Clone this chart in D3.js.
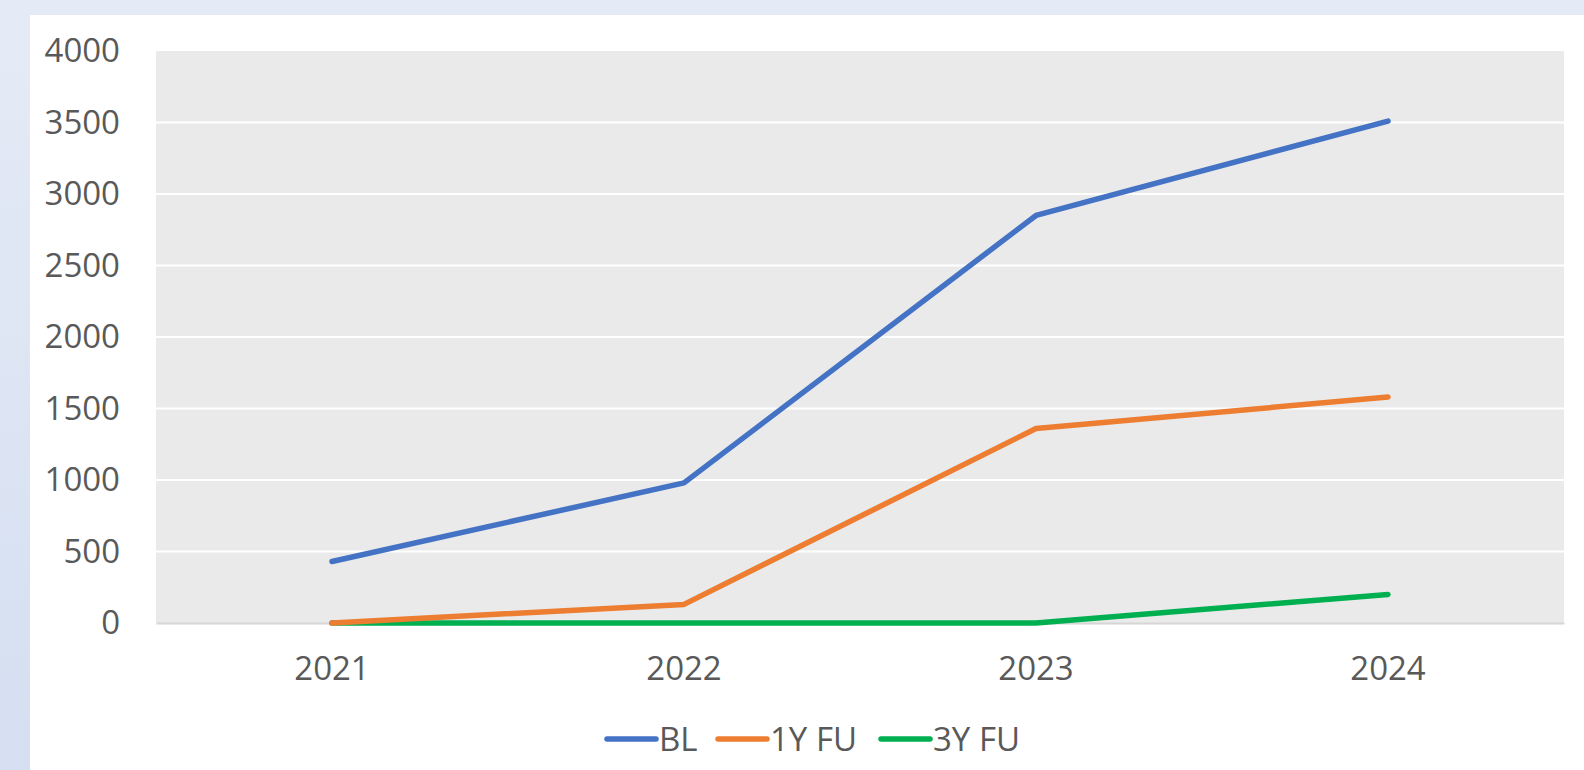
<!DOCTYPE html>
<html>
<head>
<meta charset="utf-8">
<script src="https://cdn.jsdelivr.net/npm/d3@7"></script>
<style>
  html, body { margin: 0; padding: 0; }
  body { width: 1584px; height: 770px; overflow: hidden;
         background: linear-gradient(180deg, #e5ebf6 0%, #d5dff1 100%); }
  #chart { position: absolute; left: 30px; top: 15px; width: 1554px; height: 755px; background: #fff; }
</style>
</head>
<body>
<div id="chart"></div>
<script>
// data
const years = ['2021', '2022', '2023', '2024'];
const seriesNames = ['BL', '1Y FU', '3Y FU'];
const blValues = [430, 980, 2850, 3510];
const fu1Values = [0, 130, 1360, 1580];
const fu3Values = [0, 0, 0, 200];
const yTicks = [0, 500, 1000, 1500, 2000, 2500, 3000, 3500, 4000];

const seriesColors = ['#4472c4', '#ed7d31', '#00b050'];
const textColor = '#595959';
const fontFamily = '"Open Sans", sans-serif';

const series = [blValues, fu1Values, fu3Values].map((v, i) => ({
    name: seriesNames[i],
    color: seriesColors[i],
    values: v
}));

// svg covers the white panel; offsets below are in page coords minus panel origin
const W = 1554, H = 755;
const svg = d3.select('#chart').append('svg')
    .attr('width', W)
    .attr('height', H)
    .style('font-family', fontFamily);

const plot = { left: 126, top: 36, right: 1534, bottom: 608 };

const x = d3.scaleBand()
    .domain(years)
    .range([plot.left, plot.right]);

const y = d3.scaleLinear()
    .domain([0, 4000])
    .range([plot.bottom, plot.top]);

// plot background
svg.append('rect')
    .attr('x', plot.left)
    .attr('y', plot.top)
    .attr('width', plot.right - plot.left)
    .attr('height', plot.bottom - plot.top)
    .attr('fill', '#eaeaea');

// gridlines
svg.append('g')
    .selectAll('line')
    .data(yTicks.filter(d => d > 0 && d < 4000))
    .enter()
    .append('line')
    .attr('x1', plot.left)
    .attr('x2', plot.right)
    .attr('y1', d => y(d))
    .attr('y2', d => y(d))
    .attr('stroke', '#ffffff')
    .attr('stroke-width', 2);

// y axis labels
const yAxis = svg.append('g')
    .attr('transform', 'translate(' + (plot.left - 36) + ',0)')
    .call(d3.axisLeft(y).tickValues(yTicks).tickFormat(d3.format('d')).tickSize(0).tickPadding(0));
yAxis.select('.domain').remove();
yAxis.selectAll('text')
    .attr('fill', textColor)
    .style('font-size', '33px')
    .style('font-family', fontFamily);

// x axis
const xAxis = svg.append('g')
    .attr('transform', 'translate(0,' + plot.bottom + ')')
    .call(d3.axisBottom(x).tickSize(0).tickPadding(34));
xAxis.select('.domain')
    .attr('stroke', '#d6d6d6')
    .attr('stroke-width', 2);
xAxis.selectAll('text')
    .attr('fill', textColor)
    .style('font-size', '33px')
    .style('font-family', fontFamily);

// lines
const lineGen = d3.line()
    .x((d, i) => x(years[i]) + x.bandwidth() / 2)
    .y(d => y(d));

svg.append('g')
    .selectAll('path')
    .data(series.slice().reverse())
    .enter()
    .append('path')
    .attr('d', d => lineGen(d.values))
    .attr('fill', 'none')
    .attr('stroke', d => d.color)
    .attr('stroke-width', 5.5)
    .attr('stroke-linecap', 'round')
    .attr('stroke-linejoin', 'round');

// legend
const legendY = 724;
const legendX = [577, 688, 851];
const legend = svg.append('g');
series.forEach((s, i) => {
    const g = legend.append('g').attr('transform', 'translate(' + legendX[i] + ',' + legendY + ')');
    g.append('line')
        .attr('x1', 0)
        .attr('x2', 49)
        .attr('y1', 0)
        .attr('y2', 0)
        .attr('stroke', s.color)
        .attr('stroke-width', 5.5)
        .attr('stroke-linecap', 'round');
    g.append('text')
        .attr('x', 52)
        .attr('y', 0)
        .attr('dy', '0.35em')
        .attr('fill', textColor)
        .style('font-size', '33px')
        .text(s.name);
});
</script>
</body>
</html>
